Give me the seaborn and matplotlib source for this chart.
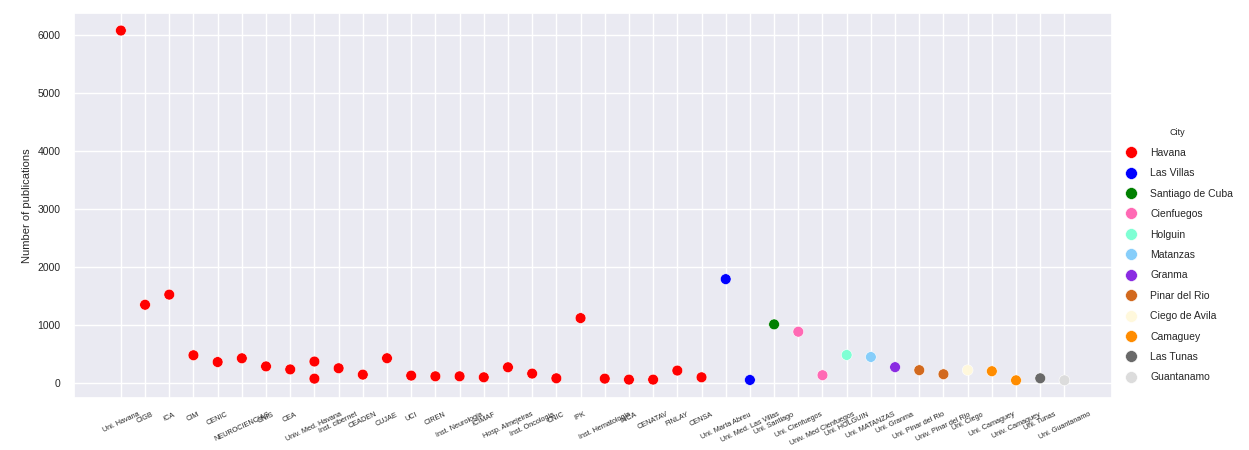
import pandas as pd
import matplotlib.pyplot as plt
import seaborn as sns

institutions = ["Uni. Havana", "CIGB", "ICA", "CIM", "CENIC", "NEUROCIENCIAS", "CNIS", "CEA",
                "Univ. Med. Havana", "Univ. Med. Havana", "Inst. cibernet", "CEADEN", "CUJAE", "UCI",
                "CIREN", "Inst. Neurologia", "ICIMAF", "Hosp. Almejeiras", "Inst. Oncologia", "CNIC",
                "IPK", "Inst. Hematologia", "INCA", "CENATAV", "FINLAY", "CENSA",
                "Uni. Marta Abreu", "Uni. Med. Las Villas", "Uni. Santiago", "Uni. Cienfuegos",
                "Univ. Med Cienfuegos", "Uni. HOLGUIN", "Uni. MATANZAS", "Uni. Granma",
                "Uni. Pinar del Rio", "Univ. Pinar del Rio", "Uni. Ciego", "Uni. Camaguey",
                "Univ. Camaguey", "Uni. Tunas", "Uni. Guantanamo"]
publications = [6085, 1355, 1530, 484, 367, 432, 292, 240,
                376, 81, 260, 150, 433, 133,
                121, 121, 104, 277, 168, 87,
                1125, 81, 64, 64, 220, 104,
                1797, 58, 1017, 890,
                140, 489, 454, 279,
                227, 157, 227, 209,
                52, 87, 52]
cities = ["Havana"] * 26 + ["Las Villas"] * 2 + ["Santiago de Cuba"] + ["Cienfuegos"] * 2 + \
         ["Holguin", "Matanzas", "Granma"] + ["Pinar del Rio"] * 2 + ["Ciego de Avila"] + \
         ["Camaguey"] * 2 + ["Las Tunas", "Guantanamo"]

city_order = ["Havana", "Las Villas", "Santiago de Cuba", "Cienfuegos", "Holguin", "Matanzas",
              "Granma", "Pinar del Rio", "Ciego de Avila", "Camaguey", "Las Tunas", "Guantanamo"]
city_colors = ["red", "blue", "green", "hotpink", "aquamarine", "lightskyblue",
               "blueviolet", "chocolate", "cornsilk", "darkorange", "dimgray", "gainsboro"]

df = pd.DataFrame({"Institution": institutions, "Publications": publications, "City": cities})

sns.set_theme(style="darkgrid")
plt.rcParams['font.family'] = ['Liberation Sans', 'DejaVu Sans']

fig = plt.figure(figsize=(12.49, 4.5), dpi=100)
ax = fig.add_axes([0.059, 0.116, 0.831, 0.855])
sns.scatterplot(data=df, x="Institution", y="Publications", hue="City",
                hue_order=city_order, palette=dict(zip(city_order, city_colors)),
                s=60, linewidth=0.4, ax=ax)

ax.set_xlabel("")
ax.set_ylabel("Number of publications", fontsize=8)
ax.tick_params(axis="y", labelsize=7.5)
plt.setp(ax.get_xticklabels(), rotation=25, fontsize=5.2, ha="center")

leg = ax.legend(title="City", loc="center left", bbox_to_anchor=(1.0, 0.37),
                frameon=False, fontsize=7.5, title_fontsize=6.5, labelspacing=1.0,
                markerscale=1.1)

fig.savefig("out.png", dpi=100)
